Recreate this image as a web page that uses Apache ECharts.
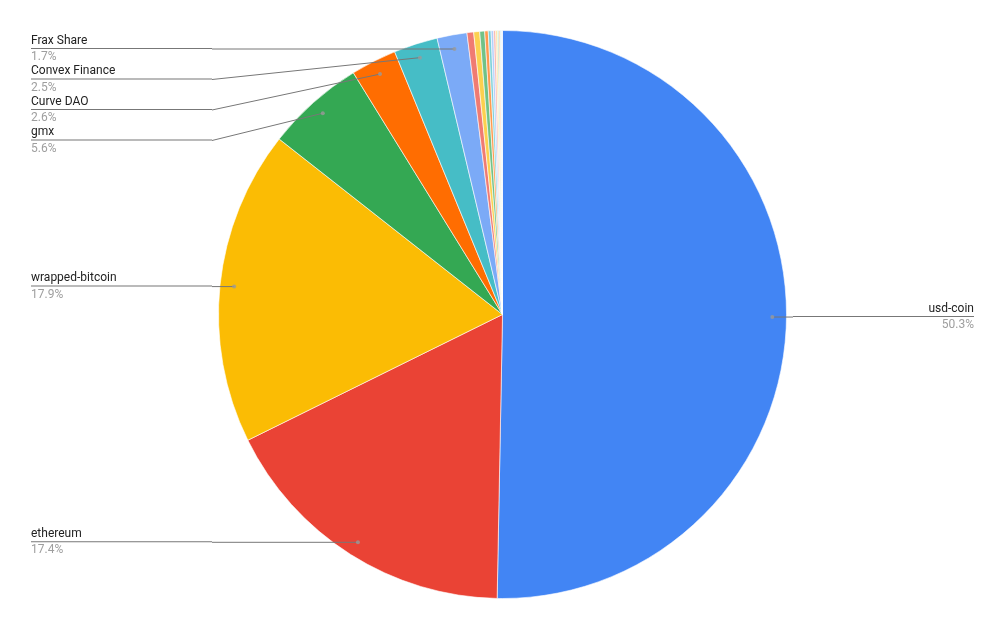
<!DOCTYPE html>
<html>
<head>
<meta charset="utf-8">
<script src="https://cdn.jsdelivr.net/npm/echarts@6/dist/echarts.min.js"></script>
<style>
html,body{margin:0;padding:0;background:#fff;}
#chart{width:1005px;height:629px;}
</style>
</head>
<body>
<div id="chart"></div>
<script>
var names = ['usd-coin','ethereum','wrapped-bitcoin','gmx','Curve DAO','Convex Finance','Frax Share',
  'other-1','other-2','other-3','other-4','other-5','other-6','other-7','other-8','other-9','other-10','other-11','other-12'];
var values = [50.3,17.4,17.9,5.6,2.6,2.5,1.7,0.38,0.34,0.28,0.2,0.16,0.14,0.12,0.1,0.08,0.08,0.06,0.06];
var labeledCount = 7;
var colors = ['#4285f4','#ea4335','#fbbc04','#34a853','#ff6d01','#46bdc6','#7baaf7',
  '#f07b72','#fcd04f','#71c287','#ff994d','#7ed1d7','#b3cefb','#f7b4ae','#fde49b','#aedcba','#ffc599','#b5e8ec','#d9e6fd'];

var total = values.reduce(function(a,b){return a+b;},0);
var pieData = names.map(function(n,i){ return {name:n, value:values[i], itemStyle:{color:colors[i]}}; });
var labelData = names.map(function(n,i){
  return {name:n, value:values[i], label:{show:i<labeledCount}, labelLine:{show:i<labeledCount}};
});
var dotData = [];
var acc = 0;
for (var i=0;i<values.length;i++){
  if (i<labeledCount) dotData.push([0.95, acc + values[i]/2]);
  acc += values[i];
}

var chart = echarts.init(document.getElementById('chart'));
var R = 284;
chart.setOption({
  animation:false,
  textStyle:{fontFamily:'Roboto, Arial, sans-serif'},
  polar:{center:['50%','50%'], radius:R},
  angleAxis:{type:'value', min:0, max:total, startAngle:90, clockwise:true, show:false},
  radiusAxis:{type:'value', min:0, max:1, show:false},
  series:[
    {
      type:'pie', center:['50%','50%'], radius:R, startAngle:90, clockwise:true,
      label:{show:false}, labelLine:{show:false}, silent:true,
      itemStyle:{borderColor:'#fff', borderWidth:0.6},
      data:pieData, z:1
    },
    {
      type:'pie', center:['50%','50%'], radius:R*0.95, startAngle:90, clockwise:true,
      silent:true, z:3,
      itemStyle:{color:'rgba(0,0,0,0)'},
      percentPrecision:1,
      label:{
        show:true, position:'outer', alignTo:'edge', edgeDistance:31, distanceToLabelLine:0,
        formatter:function(p){ return '{n|'+p.name+'}\n{hr|}\n{p|'+p.percent.toFixed(1)+'%}'; },
        rich:{
          n:{fontSize:12, color:'#222', lineHeight:15, fontFamily:'Roboto, Arial, sans-serif'},
          hr:{width:181, height:1, lineHeight:1, backgroundColor:'#777'},
          p:{fontSize:12, color:'#9e9e9e', lineHeight:16, fontFamily:'Roboto, Arial, sans-serif'}
        }
      },
      labelLine:{show:true, length:0, length2:0, smooth:false, lineStyle:{color:'#777', width:1}},
      labelLayout:function(params){
        var pts = params.labelLinePoints;
        if (!pts) return {};
        return {labelLinePoints:[pts[0], pts[2], pts[2]]};
      },
      data:labelData
    },
    {
      type:'scatter', coordinateSystem:'polar', symbolSize:4, silent:true, z:4,
      itemStyle:{color:'#9a9a9a'},
      data:dotData
    }
  ]
});
</script>
</body>
</html>
